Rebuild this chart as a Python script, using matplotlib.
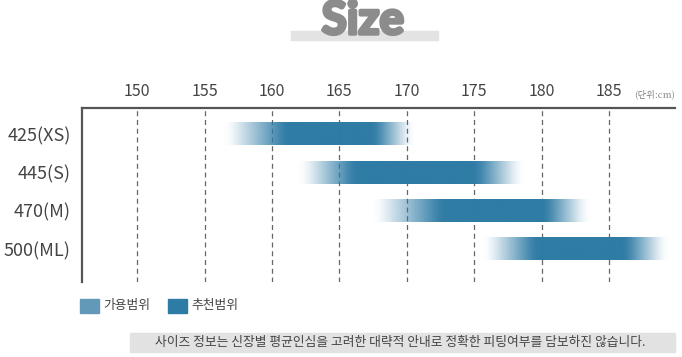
import numpy as np
import matplotlib
matplotlib.use("Agg")
import matplotlib.pyplot as plt
import matplotlib.patheffects as pe
from matplotlib.patches import Rectangle
from matplotlib.colors import to_rgb

plt.rcParams['font.family'] = ['Noto Sans CJK KR', 'DejaVu Sans']

# sizes and height ranges (cm)
sizes = ["425(XS)", "445(S)", "470(M)", "500(ML)"]
avail_start = [156.8, 162.3, 167.8, 176.0]
rec_start = [161.0, 166.0, 172.5, 179.5]
rec_end = [167.7, 175.2, 180.3, 186.3]
avail_end = [170.3, 178.3, 183.2, 189.1]
ticks = [150, 155, 160, 165, 170, 175, 180, 185]

bar_color = "#2E7BA5"
avail_color = "#6399B8"

fig = plt.figure(figsize=(6.82, 3.57), dpi=100)
ax = fig.add_axes([82 / 682, 1 - 282 / 357, (675 - 82) / 682, (282 - 108) / 357])

## dashed vertical grid
for t in ticks:
    ax.axvline(t, color="#666666", lw=0.9, ls=(0, (4, 3)), zorder=1)

## gradient bars (alpha ramp, smoothed so there is no kink)
rgb = to_rgb(bar_color)
h = 0.58
for i in range(len(sizes)):
    xs = np.linspace(avail_start[i] - 1, avail_end[i] + 1, 600)
    a = np.interp(xs, [avail_start[i], rec_start[i], rec_end[i], avail_end[i]], [0, 1, 1, 0])
    k = np.hanning(61)
    a = np.convolve(a, k / k.sum(), mode="same")
    img = np.zeros((1, len(xs), 4))
    img[0, :, :3] = rgb
    img[0, :, 3] = np.clip(a, 0, 1)
    ax.imshow(img, extent=(xs[0], xs[-1], i + h / 2, i - h / 2),
              aspect="auto", interpolation="bilinear", zorder=2)

ax.set_xlim(145.9, 189.9)
ax.set_ylim(3.86, -0.68)

ax.xaxis.tick_top()
ax.set_xticks(ticks)
ax.set_xticklabels([str(t) for t in ticks], fontsize=11.5, color="#444444")
ax.tick_params(axis="x", length=0, pad=6)
ax.set_yticks(range(len(sizes)))
ax.set_yticklabels(sizes, fontsize=13, color="#444444")
ax.tick_params(axis="y", length=0, pad=8)

for s in ["right", "bottom"]:
    ax.spines[s].set_visible(False)
for s in ["left", "top"]:
    ax.spines[s].set_color("#555555")
    ax.spines[s].set_linewidth(1.6)

ax.text(1.0, 1.075, "(단위:cm)", transform=ax.transAxes, ha="right", va="center",
        fontsize=6.5, color="#777777", family=["Noto Serif CJK KR", "Noto Sans CJK KR", "DejaVu Serif"])

## title
fig.patches.append(Rectangle((291 / 682, 1 - 40 / 357), 147 / 682, 9 / 357,
                             transform=fig.transFigure, color="#E3E3E3", zorder=0))
fig.text(363 / 682, 1 - 21 / 357, "Size", ha="center", va="center", fontsize=33,
         fontweight="bold", color="#8C8C8C", family=["Lato", "DejaVu Sans"],
         path_effects=[pe.withStroke(linewidth=2.5, foreground="#8C8C8C")])

## legend
for x0, c, lab in [(80, avail_color, "가용범위"), (168, bar_color, "추천범위")]:
    fig.patches.append(Rectangle((x0 / 682, 1 - 313 / 357), 19 / 682, 14 / 357,
                                 transform=fig.transFigure, color=c))
    fig.text((x0 + 23) / 682, 1 - 306 / 357, lab, ha="left", va="center",
             fontsize=9.2, color="#444444")

## footer
fig.patches.append(Rectangle((130 / 682, 1 - 352 / 357), 545 / 682, 19 / 357,
                             transform=fig.transFigure, color="#E2E2E2"))
fig.text(400 / 682, 1 - 342.5 / 357,
         "사이즈 정보는 신장별 평균인심을 고려한 대략적 안내로 정확한 피팅여부를 담보하진 않습니다.",
         ha="center", va="center", fontsize=9.2, color="#444444")

fig.savefig("out.png", dpi=100)
